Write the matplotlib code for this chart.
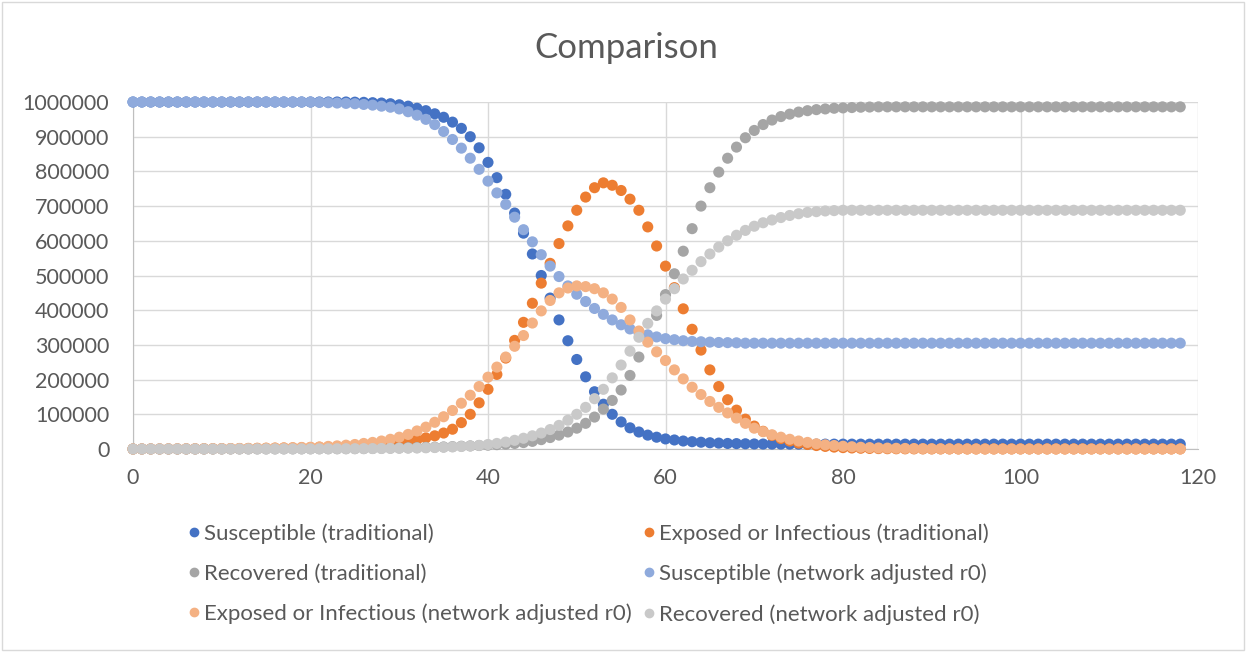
import matplotlib
matplotlib.use("Agg")
import matplotlib.pyplot as plt
from matplotlib.patches import Rectangle
from matplotlib.lines import Line2D
from matplotlib.ticker import FuncFormatter

# day index 0..118
days = list(range(119))

# values
susceptible_trad = ([1000000] * 25 +
    [999500, 999000, 998000, 997000, 995000, 992000, 988000, 982000, 975000, 966000,
     956000, 942000, 924000, 900000, 868000, 826000, 782000, 734000, 680000, 622000,
     562000, 500000, 435000, 372000, 312000, 258000, 208000, 165000, 129000, 100000,
     78000, 61000, 49000, 40000, 34000, 29000, 26000, 23000, 21000, 19500,
     18000, 17000, 16000, 15500, 15000, 14500, 14300, 14200, 14100, 14050, 14000] +
    [14000] * 43)

exposed_trad = ([0, 100, 150, 200, 250, 300, 400, 500, 600, 700,
     850, 1000, 1200, 1400, 1700, 2000, 2300, 2700, 3100, 3600,
     4200, 4900, 5700, 6700, 7800, 9000, 10500, 12200, 14200, 16500,
     19500, 23000, 27000, 32000, 38000, 46000, 57000, 76000, 100000, 133000,
     172000, 215000, 262000, 313000, 365000, 420000, 478000, 535000, 592000, 643000,
     688000, 726000, 753000, 767000, 760000, 745000, 720000, 688000, 640000, 585000,
     527000, 465000, 404000, 345000, 285000, 228000, 180000, 142000, 112000, 86000,
     66000, 51000, 39000, 30000, 23000, 17000, 13000, 10000, 7500, 5500,
     4000, 3000, 2200, 1600, 1200, 900, 700, 500, 400, 300] +
    [200] * 29)

recovered_trad = ([0, 0, 0, 0, 0, 0, 0, 0, 0, 0,
     100, 100, 100, 200, 200, 200, 300, 300, 400, 400,
     500, 600, 700, 800, 900, 1100, 1300, 1600, 2000, 2500,
     3000, 3500, 4000, 4600, 5200, 6000, 7000, 8000, 9000, 10000,
     11000, 12500, 14000, 16000, 18500, 22000, 27000, 33000, 40000, 49000,
     60000, 74000, 92000, 115000, 140000, 170000, 212000, 265000, 325000, 385000,
     445000, 505000, 570000, 635000, 700000, 753000, 798000, 838000, 870000, 897000,
     918000, 935000, 948000, 958000, 965000, 971000, 975000, 978000, 980000, 982000,
     983000, 984000, 985000, 985500] +
    [986000] * 35)

susceptible_net = ([1000000] * 21 +
    [999000, 998000, 997000, 996000, 995000, 993000, 991000, 988000, 985000,
     980000, 972000, 962000, 950000, 935000, 915000, 892000, 867000, 838000, 806000,
     772000, 738000, 705000, 668000, 632000, 597000, 560000, 527000, 497000, 470000,
     446000, 425000, 405000, 388000, 372000, 358000, 346000, 336000, 329000, 323000,
     318000, 315000, 312000, 310000, 309000, 308000, 307000, 306500, 306000] +
    [305000] * 50)

exposed_net = ([0, 200, 300, 400, 500, 600, 700, 800, 900, 1000,
     1200, 1400, 1600, 1900, 2200, 2500, 2900, 3400, 3900, 4500,
     5000, 6000, 7500, 9000, 11000, 13000, 16000, 19000, 23000, 28000,
     34000, 42000, 52000, 63000, 77000, 93000, 111000, 132000, 155000, 180000,
     207000, 236000, 265000, 296000, 327000, 363000, 398000, 428000, 450000, 464000,
     470000, 468000, 462000, 450000, 432000, 408000, 372000, 340000, 308000, 280000,
     255000, 228000, 202000, 178000, 157000, 137000, 120000, 104000, 89000, 74000,
     60000, 50000, 41000, 34000, 28000, 23000, 19000, 15000, 12000, 10000,
     8000, 6500, 5000, 4000, 3000, 2500, 2000, 1600, 1300, 1000,
     800, 600, 500, 400, 300, 250] +
    [150] * 23)

recovered_net = ([0, 0, 0, 0, 0, 0, 0, 0, 0, 0,
     0, 100, 100, 100, 200, 200, 200, 300, 300, 400,
     400, 500, 600, 700, 800, 900, 1000, 1200, 1400, 1700,
     2000, 2400, 2900, 3500, 4200, 5000, 6000, 7200, 8600, 10500,
     13000, 16000, 20000, 25000, 31000, 38000, 46000, 56000, 68000, 83000,
     100000, 120000, 145000, 172000, 205000, 242000, 282000, 322000, 362000, 398000,
     432000, 462000, 490000, 515000, 540000, 562000, 582000, 600000, 616000, 630000,
     642000, 652000, 660000, 667000, 673000, 678000, 682000, 684000, 686000, 687000] +
    [688000] * 39)

series = [
    ("Susceptible (traditional)", susceptible_trad, "#4472C4"),
    ("Exposed or Infectious (traditional)", exposed_trad, "#ED7D31"),
    ("Recovered (traditional)", recovered_trad, "#A5A5A5"),
    ("Susceptible (network adjusted r0)", susceptible_net, "#8FAADC"),
    ("Exposed or Infectious (network adjusted r0)", exposed_net, "#F4B183"),
    ("Recovered (network adjusted r0)", recovered_net, "#C9C9C9"),
]

plt.rcParams['font.family'] = ['Lato', 'DejaVu Sans']
text_color = '#595959'
grid_color = '#D9D9D9'

fig = plt.figure(figsize=(12.46, 6.52), dpi=100)
ax = fig.add_axes([133 / 1246, 1 - 449 / 652, (1198 - 133) / 1246, (449 - 102) / 652])

for name, vals, col in series:
    ax.scatter(days, vals, s=64, color=col, edgecolors='none', zorder=3, clip_on=False)

ax.set_xlim(0, 120)
ax.set_ylim(0, 1000000)
ax.set_xticks(range(0, 121, 20))
ax.set_yticks(range(0, 1000001, 100000))
ax.yaxis.set_major_formatter(FuncFormatter(lambda v, p: f"{int(round(v))}"))
ax.grid(True, color=grid_color, linewidth=1)
ax.set_axisbelow(True)
for s in ax.spines.values():
    s.set_visible(False)
ax.spines['left'].set_visible(True)
ax.spines['left'].set_color('#BFBFBF')
ax.spines['bottom'].set_visible(True)
ax.spines['bottom'].set_color('#BFBFBF')
ax.tick_params(length=0, labelsize=15.5, colors=text_color)
ax.tick_params(axis='x', pad=14)
ax.tick_params(axis='y', pad=17)

fig.text(0.503, 1 - 48 / 652, "Comparison", ha='center', va='center',
         fontsize=25, color=text_color)

# legend, filled row by row like the original
order = [0, 2, 4, 1, 3, 5]
handles = [Line2D([], [], linestyle='none', marker='o', markersize=6,
                  color=series[i][2]) for i in order]
labels = [series[i][0] for i in order]
fig.legend(handles, labels, loc='upper left', bbox_to_anchor=(190 / 1246, 1 - 523 / 652),
           ncol=2, frameon=False, fontsize=16, labelcolor=text_color,
           handlelength=0.4, handletextpad=0.25, columnspacing=0.55,
           labelspacing=0.9, borderpad=0, borderaxespad=0)

fig.patches.append(Rectangle((0.002, 0.003), 0.996, 0.994, transform=fig.transFigure,
                             fill=False, edgecolor=grid_color, linewidth=1))

fig.savefig("out.png", dpi=100)
